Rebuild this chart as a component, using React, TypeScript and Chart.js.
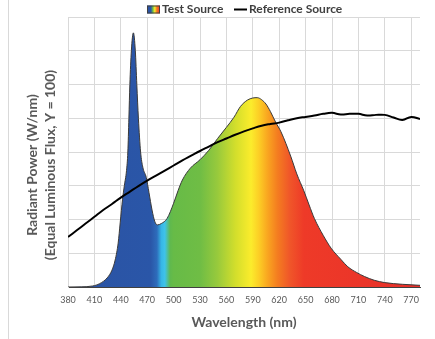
import React, { useEffect, useRef } from 'react';
import { Chart, registerables } from 'chart.js';

Chart.register(...registerables);

// ---- Data ----
const REF_NM = [380, 390, 400, 410, 420, 430, 440, 450, 460, 470, 480, 490, 500, 510, 520, 530, 540, 550, 560, 570, 580, 590, 600, 610, 620, 630, 640, 650, 660, 670, 680, 690, 700, 710, 720, 730, 740, 750, 760, 770, 780];
const REF_POWER = [14.8, 16.8, 18.8, 20.8, 22.8, 24.6, 26.5, 28.2, 29.9, 31.5, 33.0, 34.5, 36.0, 37.5, 38.9, 40.3, 41.6, 42.9, 44.0, 45.1, 46.1, 47.0, 47.8, 48.3, 48.7, 49.4, 50.0, 50.4, 50.8, 51.3, 51.6, 51.1, 51.3, 51.3, 50.8, 51.0, 51.0, 50.2, 49.5, 50.4, 49.8];

const TEST_NM = [380, 395, 408, 416, 424.5, 430, 433.6, 437, 439.3, 442, 444, 446.5, 448, 449.2, 450.3, 452, 454.3, 456.5, 458.2, 460, 462.5, 465, 469, 472, 475.5, 478.5, 481.5, 486, 492.6, 500, 505, 510, 519, 530, 540, 550, 560, 568.6, 576, 584, 590, 595, 600, 605, 610, 616, 622, 633, 640, 648, 654, 660, 670, 679, 690, 698, 708, 717, 728, 740, 760, 780];
const TEST_POWER = [0, 0.05, 0.3, 1.0, 2.7, 5.0, 8.0, 13.0, 19.0, 26.0, 30.0, 34.5, 40.0, 50.0, 60.0, 70.0, 75.3, 70.0, 60.0, 50.0, 40.0, 35.5, 32.4, 28.0, 22.8, 19.5, 18.4, 18.8, 20.3, 24.8, 28.5, 31.7, 35.2, 37.7, 40.5, 44.0, 47.3, 50.3, 53.5, 55.4, 56.0, 56.1, 55.5, 54.2, 52.0, 48.8, 46.0, 38.8, 33.5, 28.5, 24.3, 20.3, 15.3, 11.5, 8.2, 6.0, 4.3, 3.1, 2.0, 1.3, 0.8, 0.5];

const X_MIN = 380;
const X_MAX = 780;
const X_TICKS = [380, 410, 440, 470, 500, 530, 560, 590, 620, 650, 680, 710, 740, 770];
const Y_MIN = 0;
const Y_MAX = 80;
const Y_STEP = 10;

const LEGEND_LABELS = ['Test Source', 'Reference Source'];
const Y_TITLE = ['Radiant Power (W/nm)', '(Equal Luminous Flux, Y = 100)'];
const X_TITLE = 'Wavelength (nm)';

// ---- Styles ----
const SPECTRUM_STOPS: [number, string][] = [
  [380, '#2b53a3'],
  [474, '#2a56a8'],
  [481, '#2e6cbb'],
  [486, '#36b6e6'],
  [490, '#3fc3ea'],
  [496, '#5fb94e'],
  [500, '#67bb47'],
  [530, '#6fbd45'],
  [550, '#98ca3c'],
  [570, '#d2de2c'],
  [588, '#fbec2c'],
  [597, '#fcce25'],
  [607, '#f9a520'],
  [618, '#f47d20'],
  [632, '#f05629'],
  [648, '#ee3a28'],
  [780, '#e8302a'],
];
const FONT = 'Lato, "Open Sans", sans-serif';
const GRID = '#d9d9d9';

function spectrumGradient(c: CanvasRenderingContext2D, x0: number, x1: number) {
  const g = c.createLinearGradient(x0, 0, x1, 0);
  for (const [nm, col] of SPECTRUM_STOPS) {
    g.addColorStop(Math.min(1, Math.max(0, (nm - X_MIN) / (X_MAX - X_MIN))), col);
  }
  return g;
}

const decorPlugin = {
  id: 'decor',
  beforeDraw(chart: any) {
    const c = chart.ctx as CanvasRenderingContext2D;
    c.save();
    c.fillStyle = '#ffffff';
    c.fillRect(0, 0, chart.width, chart.height);
    c.fillStyle = GRID;
    c.fillRect(8, 0, 1, chart.height);
    c.restore();
  },
  afterDraw(chart: any) {
    const c = chart.ctx as CanvasRenderingContext2D;
    const area = chart.chartArea;
    c.save();
    // Y title
    c.fillStyle = '#595959';
    c.font = `bold 14px ${FONT}`;
    c.textAlign = 'center';
    c.textBaseline = 'middle';
    const cy = (area.top + area.bottom) / 2 + 13;
    const xs = [32.5, 50];
    Y_TITLE.forEach((t, i) => {
      c.save();
      c.translate(xs[i], cy);
      c.rotate(-Math.PI / 2);
      c.fillText(t, 0, 0);
      c.restore();
    });
    // Legend
    const ly = 9.5;
    c.font = `bold 12px ${FONT}`;
    c.textAlign = 'left';
    const bx = 147, bw = 13, bh = 8;
    const lg = c.createLinearGradient(bx, 0, bx + bw, 0);
    lg.addColorStop(0, '#2b53a3');
    lg.addColorStop(0.3, '#2b53a3');
    lg.addColorStop(0.45, '#6fbd45');
    lg.addColorStop(0.6, '#fbec2c');
    lg.addColorStop(0.75, '#f47d20');
    lg.addColorStop(1, '#e8302a');
    c.fillStyle = lg;
    c.fillRect(bx, ly - bh / 2, bw, bh);
    c.strokeStyle = '#404040';
    c.lineWidth = 1;
    c.strokeRect(bx + 0.5, ly - bh / 2 + 0.5, bw - 1, bh - 1);
    c.fillStyle = '#404040';
    c.fillText(LEGEND_LABELS[0], 162, ly);
    c.strokeStyle = '#000000';
    c.lineWidth = 2;
    c.beginPath();
    c.moveTo(234, ly);
    c.lineTo(247, ly);
    c.stroke();
    c.fillText(LEGEND_LABELS[1], 249, ly);
    c.restore();
  },
};

export default function App() {
  const ref = useRef<HTMLCanvasElement | null>(null);

  useEffect(() => {
    document.body.style.margin = '0';
    const canvas = ref.current;
    if (!canvas) return;
    const chart = new Chart(canvas, {
      type: 'line',
      data: {
        datasets: [
          {
            label: LEGEND_LABELS[1],
            data: REF_NM.map((x, i) => ({ x, y: REF_POWER[i] })),
            borderColor: '#000000',
            borderWidth: 2,
            pointRadius: 0,
            tension: 0.4,
            fill: false,
            order: 0,
          },
          {
            label: LEGEND_LABELS[0],
            data: TEST_NM.map((x, i) => ({ x, y: TEST_POWER[i] })),
            borderColor: '#3a3a3a',
            borderWidth: 1,
            pointRadius: 0,
            cubicInterpolationMode: 'monotone',
            fill: 'origin',
            backgroundColor: (ctx: any) => {
              const ch = ctx.chart;
              const sx = ch.scales && ch.scales.x;
              if (!ch.chartArea || !sx) return '#2b53a3';
              return spectrumGradient(ch.ctx, sx.getPixelForValue(X_MIN), sx.getPixelForValue(X_MAX));
            },
            order: 1,
          },
        ],
      },
      options: {
        animation: false,
        responsive: false,
        devicePixelRatio: 1,
        layout: { padding: { top: 17, right: 15, left: 0, bottom: 0 } },
        plugins: {
          legend: { display: false },
          tooltip: { enabled: false },
        },
        scales: {
          x: {
            type: 'linear',
            min: X_MIN,
            max: X_MAX,
            afterBuildTicks: (s: any) => { s.ticks = X_TICKS.map((v) => ({ value: v })); },
            afterFit: (s: any) => { s.height = 52; },
            ticks: {
              autoSkip: false,
              maxRotation: 0,
              padding: 8,
              color: '#595959',
              font: { family: FONT, size: 9 },
            },
            grid: { color: GRID, lineWidth: 1, drawTicks: false },
            border: { color: '#404040', width: 1 },
            title: {
              display: true,
              text: X_TITLE,
              color: '#595959',
              font: { family: FONT, size: 14, weight: 'bold' },
              padding: { top: 0, bottom: 8 },
            },
          },
          y: {
            min: Y_MIN,
            max: Y_MAX,
            afterFit: (s: any) => { s.width = 68; },
            ticks: { stepSize: Y_STEP, display: false },
            grid: { color: GRID, lineWidth: 1, drawTicks: false },
            border: { color: GRID, width: 1 },
          },
        },
      },
      plugins: [decorPlugin],
    } as any);
    return () => chart.destroy();
  }, []);

  return (
    <div style={{ width: 435, height: 339 }}>
      <canvas ref={ref} width={435} height={339} style={{ display: 'block', width: 435, height: 339 }} />
    </div>
  );
}
